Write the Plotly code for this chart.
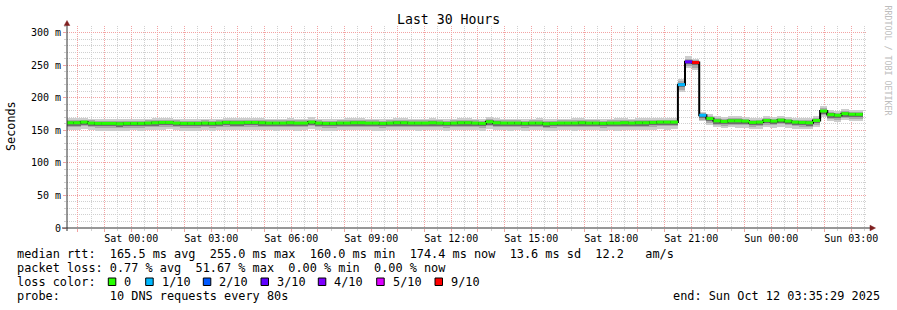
import plotly.graph_objects as go
import pandas as pd

# ---------------- data ----------------
range_start = "2025-10-10 21:35:29"
range_end = "2025-10-12 03:35:29"
step_origin = "2025-10-10 21:34:00"   # first 16-min consolidation step
step_minutes = 16

median_ms = [
    161.5, 161.5, 162.5, 161.0, 160.5, 160.5, 160.5, 160.0, 160.5, 160.5,
    160.5, 161.0, 161.5, 162.0, 162.0, 161.0, 160.5, 160.5, 160.5, 161.0,
    160.5, 161.0, 162.0, 161.5, 161.5, 162.0, 162.0, 161.5, 161.0, 161.0,
    161.0, 161.5, 161.0, 161.0, 162.5, 161.0, 160.5, 160.5, 161.0, 161.0,
    161.5, 161.5, 161.0, 161.0, 160.5, 161.0, 161.5, 161.5, 161.0, 161.0,
    161.0, 161.5, 161.0, 160.5, 161.0, 161.5, 161.5, 161.0, 160.5, 163.0,
    161.5, 161.0, 161.0, 161.0, 160.5, 161.0, 161.0, 160.0, 160.5, 161.0,
    161.0, 161.0, 161.5, 161.0, 161.0, 160.5, 161.0, 161.0, 161.5, 161.0,
    161.5, 161.5, 162.0, 162.5, 162.5, 162.5,
    220.0, 255.0, 254.0, 173.0,
    168.0, 164.5, 163.5, 164.5, 164.5, 164.0, 162.0, 162.5, 165.0, 164.0,
    165.5, 164.0, 162.5, 162.0, 161.5, 165.0, 179.5, 174.0, 173.0, 175.5,
    174.5, 174.4]

smoke_min = [
    150.5, 150.0, 151.5, 150.0, 149.5, 149.0, 149.5, 149.0, 149.5, 150.0,
    149.5, 150.0, 150.0, 151.0, 151.5, 150.0, 149.0, 149.5, 149.5, 150.5,
    149.5, 150.0, 151.0, 150.0, 150.5, 151.0, 150.5, 150.5, 150.0, 149.5,
    150.0, 150.5, 149.5, 150.0, 151.5, 150.0, 149.0, 149.5, 150.0, 150.5,
    150.5, 150.0, 150.0, 149.5, 149.5, 150.0, 150.0, 150.5, 150.0, 149.5,
    150.0, 150.5, 150.0, 149.0, 150.0, 150.5, 150.0, 150.0, 149.0, 152.0,
    150.5, 150.0, 149.5, 150.0, 149.5, 150.0, 150.0, 148.5, 149.5, 150.0,
    150.0, 149.5, 150.5, 150.0, 150.0, 149.5, 150.0, 149.5, 150.5, 150.0,
    150.5, 150.0, 151.0, 151.5, 151.0, 151.5,
    208.0, 246.0, 242.0, 163.5,
    158.0, 154.5, 153.5, 154.5, 154.0, 154.0, 152.0, 152.5, 155.0, 154.0,
    155.5, 154.0, 152.5, 152.0, 151.5, 155.0, 170.0, 164.0, 163.0, 165.5,
    164.5, 164.5]

smoke_mid_lo = [
    155.0, 155.0, 156.0, 154.5, 154.0, 154.0, 154.0, 153.5, 154.0, 154.0,
    154.0, 154.5, 155.0, 155.5, 155.5, 154.5, 154.0, 154.0, 154.0, 154.5,
    154.0, 154.5, 155.5, 155.0, 155.0, 155.5, 155.5, 155.0, 154.5, 154.5,
    154.5, 155.0, 154.5, 154.5, 156.0, 154.5, 154.0, 154.0, 154.5, 154.5,
    155.0, 155.0, 154.5, 154.5, 154.0, 154.5, 155.0, 155.0, 154.5, 154.5,
    154.5, 155.0, 154.5, 154.0, 154.5, 155.0, 155.0, 154.5, 154.0, 156.5,
    155.0, 154.5, 154.5, 154.5, 154.0, 154.5, 154.5, 153.5, 154.0, 154.5,
    154.5, 154.5, 155.0, 154.5, 154.5, 154.0, 154.5, 154.5, 155.0, 154.5,
    155.0, 155.0, 155.5, 156.0, 156.0, 156.0,
    212.0, 249.0, 246.0, 166.0,
    161.5, 158.0, 157.0, 158.0, 158.0, 157.5, 155.5, 156.0, 158.5, 157.5,
    159.0, 157.5, 156.0, 155.5, 155.0, 158.5, 173.0, 167.5, 166.5, 169.0,
    168.0, 168.0]

smoke_in_lo = [
    157.0, 157.0, 158.0, 156.5, 156.0, 156.0, 156.0, 155.5, 156.0, 156.0,
    156.0, 156.5, 157.0, 157.5, 157.5, 156.5, 156.0, 156.0, 156.0, 156.5,
    156.0, 156.5, 157.5, 157.0, 157.0, 157.5, 157.5, 157.0, 156.5, 156.5,
    156.5, 157.0, 156.5, 156.5, 158.0, 156.5, 156.0, 156.0, 156.5, 156.5,
    157.0, 157.0, 156.5, 156.5, 156.0, 156.5, 157.0, 157.0, 156.5, 156.5,
    156.5, 157.0, 156.5, 156.0, 156.5, 157.0, 157.0, 156.5, 156.0, 158.5,
    157.0, 156.5, 156.5, 156.5, 156.0, 156.5, 156.5, 155.5, 156.0, 156.5,
    156.5, 156.5, 157.0, 156.5, 156.5, 156.0, 156.5, 156.5, 157.0, 156.5,
    157.0, 157.0, 157.5, 158.0, 158.0, 158.0,
    216.0, 251.5, 249.5, 169.0,
    163.5, 160.0, 159.0, 160.0, 160.0, 159.5, 157.5, 158.0, 160.5, 159.5,
    161.0, 159.5, 158.0, 157.5, 157.0, 160.5, 175.0, 169.5, 168.5, 171.0,
    170.0, 170.0]

smoke_in_hi = [
    163.0, 163.0, 164.0, 162.5, 162.0, 162.0, 162.0, 161.5, 162.0, 162.0,
    162.0, 162.5, 163.0, 163.5, 163.5, 162.5, 162.0, 162.0, 162.0, 162.5,
    162.0, 162.5, 163.5, 163.0, 163.0, 163.5, 163.5, 163.0, 162.5, 162.5,
    162.5, 163.0, 162.5, 162.5, 164.0, 162.5, 162.0, 162.0, 162.5, 162.5,
    163.0, 163.0, 162.5, 162.5, 162.0, 162.5, 163.0, 163.0, 162.5, 162.5,
    162.5, 163.0, 162.5, 162.0, 162.5, 163.0, 163.0, 162.5, 162.0, 164.5,
    163.0, 162.5, 162.5, 162.5, 162.0, 162.5, 162.5, 161.5, 162.0, 162.5,
    162.5, 162.5, 163.0, 162.5, 162.5, 162.0, 162.5, 162.5, 163.0, 162.5,
    163.0, 163.0, 163.5, 164.0, 164.0, 164.0,
    222.0, 257.0, 256.0, 175.0,
    169.5, 166.0, 165.0, 166.0, 166.0, 165.5, 163.5, 164.0, 166.5, 165.5,
    167.0, 165.5, 164.0, 163.5, 163.0, 166.5, 181.0, 175.5, 174.5, 177.0,
    176.0, 176.0]

smoke_mid_hi = [
    165.5, 165.5, 166.5, 165.0, 164.5, 164.5, 164.5, 164.0, 164.5, 164.5,
    164.5, 165.0, 165.5, 166.0, 166.0, 165.0, 164.5, 164.5, 164.5, 165.0,
    164.5, 165.0, 166.0, 165.5, 165.5, 166.0, 166.0, 165.5, 165.0, 165.0,
    165.0, 165.5, 165.0, 165.0, 166.5, 165.0, 164.5, 164.5, 165.0, 165.0,
    165.5, 165.5, 165.0, 165.0, 164.5, 165.0, 165.5, 165.5, 165.0, 165.0,
    165.0, 165.5, 165.0, 164.5, 165.0, 165.5, 165.5, 165.0, 164.5, 167.0,
    165.5, 165.0, 165.0, 165.0, 164.5, 165.0, 165.0, 164.0, 164.5, 165.0,
    165.0, 165.0, 165.5, 165.0, 165.0, 164.5, 165.0, 165.0, 165.5, 165.0,
    165.5, 165.5, 166.0, 166.5, 166.5, 166.5,
    226.0, 260.0, 258.0, 176.0,
    172.0, 168.5, 167.5, 168.5, 168.5, 168.0, 166.0, 166.5, 169.0, 168.0,
    169.5, 168.0, 166.5, 166.0, 165.5, 169.0, 183.5, 178.0, 177.0, 179.5,
    178.5, 178.5]

smoke_max = [
    168.5, 169.0, 169.5, 168.0, 167.5, 168.0, 167.5, 167.0, 167.5, 168.0,
    167.5, 168.0, 169.0, 169.0, 169.0, 168.0, 167.5, 168.0, 167.5, 168.0,
    168.0, 168.0, 169.0, 169.0, 168.5, 169.0, 169.0, 168.5, 168.0, 168.0,
    168.0, 168.5, 168.0, 168.0, 170.0, 168.0, 168.0, 167.5, 168.0, 168.5,
    168.5, 168.5, 168.0, 168.0, 167.5, 168.0, 168.5, 169.0, 168.0, 168.0,
    168.0, 168.5, 168.0, 167.5, 168.0, 168.5, 169.0, 168.0, 167.5, 170.0,
    168.5, 168.0, 168.0, 168.0, 167.5, 168.0, 168.5, 167.0, 167.5, 168.0,
    168.0, 168.5, 168.5, 168.0, 168.0, 167.5, 168.0, 168.5, 168.5, 168.0,
    168.5, 168.5, 169.0, 169.5, 169.5, 169.5,
    229.0, 263.5, 260.0, 178.5,
    175.0, 171.5, 170.5, 171.5, 171.5, 171.0, 169.0, 169.5, 172.0, 171.0,
    172.5, 171.0, 169.5, 169.0, 168.5, 172.0, 186.5, 181.0, 180.0, 182.5,
    181.5, 181.5]

# steps that had packet loss (all others: 0)
loss_step_index = [86, 87, 88, 89]
loss_step_tenths = [1, 3, 9, 1]

legend_labels = ["0", "1/10", "2/10", "3/10", "4/10", "5/10", "9/10"]
legend_tenths = [0, 1, 2, 3, 4, 5, 9]
legend_colors = ["#26ff00", "#00b8ff", "#0059ff", "#5e00ff", "#7e00ff", "#dd00ff", "#ff0000"]

y_tick_values = [0, 50, 100, 150, 200, 250, 300]
y_tick_text = ["0", "50 m", "100 m", "150 m", "200 m", "250 m", "300 m"]

stats_lines = [
    "median rtt:  165.5 ms avg  255.0 ms max  160.0 ms min  174.4 ms now  13.6 ms sd  12.2   am/s",
    "packet loss: 0.77 % avg  51.67 % max  0.00 % min  0.00 % now",
    "loss color:",
    "probe:       10 DNS requests every 80s",
]
end_text = "end: Sun Oct 12 03:35:29 2025"
title_text = "Last 30 Hours"
y_title = "Seconds"
watermark = "RRDTOOL / TOBI OETIKER"

# ---------------- layout helpers ----------------
W, H = 897, 310
PL, PR, PT, PB = 67, 867, 26, 228   # plot area in pixels
MONO = "DejaVu Sans Mono"


def px(x):
    return (x - PL) / (PR - PL)


def py(y):
    return (PB - y) / (PB - PT)


def nb(s):
    return s.replace(" ", "\u00a0")


n = len(median_ms)
step = pd.Timedelta(minutes=step_minutes)
starts = pd.date_range(step_origin, periods=n, freq=f"{step_minutes}min")
ends = starts + step
centers = starts + step / 2
width_ms = step_minutes * 60 * 1000

fig = go.Figure()

# smoke bands (outer -> inner)
bands = [
    (smoke_min, smoke_max, "#cdcdcd"),
    (smoke_mid_lo, smoke_mid_hi, "#a9a9a9"),
    (smoke_in_lo, smoke_in_hi, "#6e6e6e"),
]
for lo, hi, col in bands:
    fig.add_trace(go.Bar(
        x=centers, base=lo, y=[h - l for l, h in zip(lo, hi)], width=width_ms,
        marker=dict(color=col, line=dict(width=0)), hoverinfo="skip"))

# black median step line
fig.add_trace(go.Scatter(
    x=list(starts) + [ends[-1]], y=median_ms + [median_ms[-1]],
    mode="lines", line=dict(color="#000000", width=2, shape="hv"), hoverinfo="skip"))

# colored median segments by loss
loss_of_step = {i: t for i, t in zip(loss_step_index, loss_step_tenths)}
for tenths, col in zip(legend_tenths, legend_colors):
    xs, ys = [], []
    for i in range(n):
        if loss_of_step.get(i, 0) == tenths:
            xs += [starts[i], ends[i], None]
            ys += [median_ms[i], median_ms[i], None]
    if xs:
        fig.add_trace(go.Scatter(x=xs, y=ys, mode="lines",
                                 line=dict(color=col, width=3), hoverinfo="skip"))

t0 = pd.Timestamp(range_start)
t1 = pd.Timestamp(range_end)
hours = pd.date_range(t0.ceil("h"), t1.floor("h"), freq="h")
half_hours = [h - pd.Timedelta(minutes=30) for h in hours] + [hours[-1] + pd.Timedelta(minutes=30)]
half_hours = [h for h in half_hours if t0 <= h <= t1]
tick_text = [(h.strftime("%a %H:%M") if h.hour % 3 == 0 else "") for h in hours]

RED = "#f2a3a3"
GREY = "#d0d0d0"

fig.update_layout(
    width=W, height=H,
    margin=dict(l=PL, r=W - PR, t=PT, b=H - PB),
    paper_bgcolor="#ffffff", plot_bgcolor="#ffffff",
    showlegend=False, barmode="overlay", bargap=0,
    font=dict(family=MONO, size=10, color="#000000"),
    xaxis=dict(
        type="date", range=[t0, t1],
        tickmode="array", tickvals=list(hours), ticktext=tick_text,
        tickfont=dict(family=MONO, size=10, color="#000000"),
        ticklabelstandoff=-2,
        showgrid=True, gridcolor=RED, griddash="1px,1px", gridwidth=1,
        ticks="outside", ticklen=3, tickcolor=RED, tickwidth=1,
        zeroline=False, showline=False, fixedrange=True,
        minor=dict(tickmode="array", tickvals=half_hours, showgrid=True,
                   gridcolor=GREY, griddash="1px,1px", gridwidth=1,
                   ticks="outside", ticklen=2, tickcolor=GREY),
    ),
    yaxis=dict(
        range=[0, 310],
        tickmode="array", tickvals=y_tick_values, ticktext=y_tick_text,
        tickfont=dict(family=MONO, size=10, color="#000000"),
        showgrid=True, gridcolor=RED, griddash="1px,1px", gridwidth=1,
        ticks="outside", ticklen=3, tickcolor=RED, tickwidth=1,
        zeroline=False, showline=False, fixedrange=True,
        minor=dict(tickmode="array",
                   tickvals=[v for v in range(10, 311, 10) if v % 50 != 0],
                   showgrid=True, gridcolor=GREY, griddash="1px,1px", gridwidth=1,
                   ticks="outside", ticklen=2, tickcolor=GREY),
    ),
)

shapes = []
AX = "#303030"
ARROW = "#7f1f1f"
# axis lines
shapes.append(dict(type="line", xref="paper", yref="paper",
                   x0=px(62), x1=px(871), y0=0, y1=0, line=dict(color=AX, width=1)))
shapes.append(dict(type="line", xref="paper", yref="paper",
                   x0=0, x1=0, y0=py(231), y1=py(24), line=dict(color=AX, width=1)))
# arrows
shapes.append(dict(type="path", xref="paper", yref="paper",
                   path=f"M {px(67)},{py(20.5)} L {px(64.2)},{py(25.5)} L {px(69.8)},{py(25.5)} Z",
                   fillcolor=ARROW, line=dict(color=ARROW, width=0.5)))
shapes.append(dict(type="path", xref="paper", yref="paper",
                   path=f"M {px(875.5)},{py(228)} L {px(870)},{py(225.2)} L {px(870)},{py(230.8)} Z",
                   fillcolor=ARROW, line=dict(color=ARROW, width=0.5)))

annotations = []
annotations.append(dict(text=title_text, x=px(448), y=py(19.5), xref="paper", yref="paper",
                        showarrow=False, xanchor="center", yanchor="middle",
                        font=dict(family=MONO, size=13.2, color="#000000")))
annotations.append(dict(text=y_title, x=px(11), y=py(126), xref="paper", yref="paper",
                        showarrow=False, xanchor="center", yanchor="middle", textangle=-90,
                        font=dict(family=MONO, size=11.8, color="#000000")))
annotations.append(dict(text=nb(watermark), x=px(887.5), y=py(60), xref="paper", yref="paper",
                        showarrow=False, xanchor="center", yanchor="middle", textangle=90,
                        font=dict(family=MONO, size=8.3, color="#bdbdbd")))

line_y = [254.3, 268.3, 282.3, 296.3]
for txt, yy in zip(stats_lines, line_y):
    annotations.append(dict(text=nb(txt), x=px(16), y=py(yy), xref="paper", yref="paper",
                            showarrow=False, xanchor="left", yanchor="middle", borderpad=0,
                            font=dict(family=MONO, size=11.86, color="#000000")))
annotations.append(dict(text=nb(end_text), x=px(880.5), y=py(296.3), xref="paper", yref="paper",
                        showarrow=False, xanchor="right", yanchor="middle", borderpad=0,
                        font=dict(family=MONO, size=11.86, color="#000000")))

# loss colour legend
box_x = [108.3, 145.7, 203.3, 261.0, 318.3, 376.7, 435.0]
for bx, lab, col in zip(box_x, legend_labels, legend_colors):
    shapes.append(dict(type="rect", xref="paper", yref="paper",
                       x0=px(bx), x1=px(bx + 7.5), y0=py(285.5), y1=py(278),
                       fillcolor=col, line=dict(color="#000000", width=1)))
    annotations.append(dict(text=nb(lab), x=px(bx + 15), y=py(282.3), xref="paper", yref="paper",
                            showarrow=False, xanchor="left", yanchor="middle", borderpad=0,
                            font=dict(family=MONO, size=11.86, color="#000000")))

fig.update_layout(shapes=shapes, annotations=annotations)
fig.write_html("out.html")
